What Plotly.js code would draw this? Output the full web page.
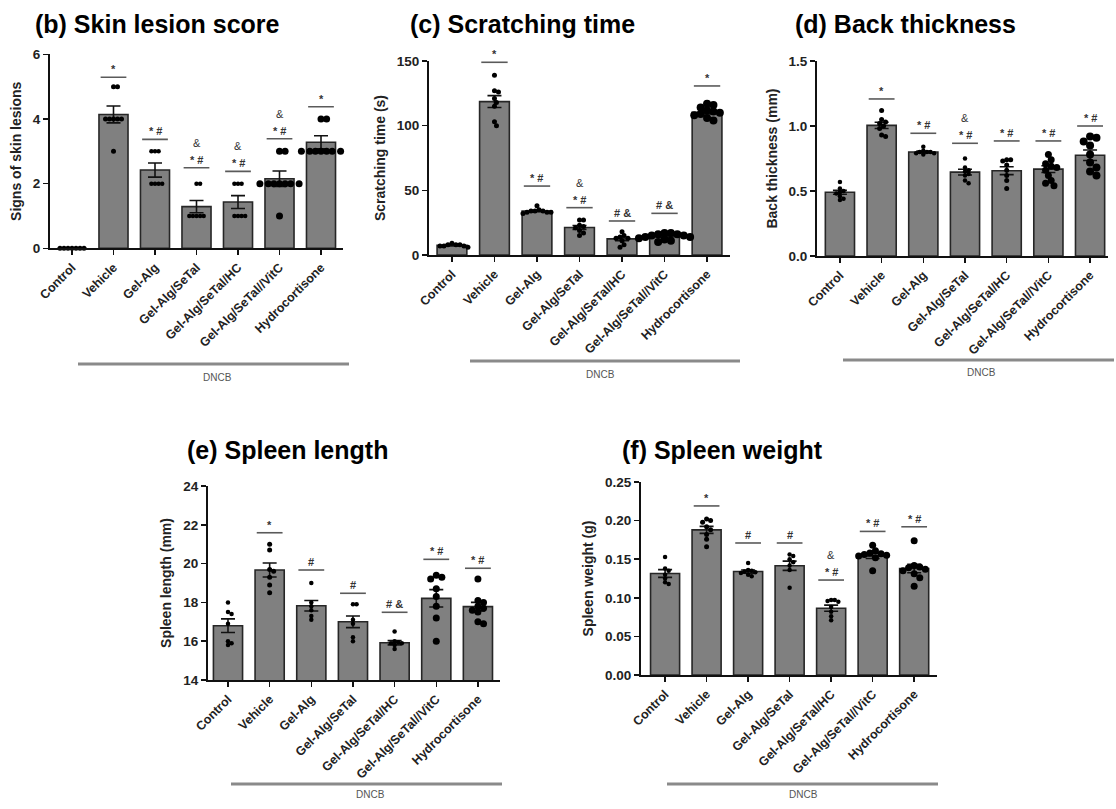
<!DOCTYPE html>
<html>
<head>
<meta charset="utf-8">
<script src="https://cdn.plot.ly/plotly-3.0.1.min.js"></script>
<style>html,body{margin:0;padding:0;background:#fff;}#chart{width:1116px;height:809px;}</style>
</head>
<body>
<div id="chart"></div>
<script>
// ---------------- DATA ----------------
const groups = ["Control", "Vehicle", "Gel-Alg", "Gel-Alg/SeTal", "Gel-Alg/SeTal/HC", "Gel-Alg/SeTal//VitC", "Hydrocortisone"];

// (b) Skin lesion score
const lesionMean = [0, 4.14, 2.42, 1.29, 1.43, 2.15, 3.28];
const lesionSem  = [0, 0.26, 0.22, 0.19, 0.20, 0.24, 0.20];
const lesionPts  = [
  [0, 0, 0, 0, 0, 0, 0],
  [5, 5, 4, 4, 4, 4, 4, 3],
  [3, 3, 3, 2, 2, 2, 2],
  [2, 2, 1, 1, 1, 1, 1],
  [2, 2, 2, 1, 1, 1, 1],
  [3, 3, 2, 2, 2, 2, 2, 2, 2, 1],
  [4, 4, 3, 3, 3, 3, 3, 3, 3]
];
const lesionSigY   = [null, 5.29, 3.37, 2.49, 2.38, 3.39, 4.38];
const lesionSig    = ["", "*", "*#", "*#", "*#", "*#", "*"];
const lesionSigTop = ["", "", "", "&", "&", "&", ""];

// (c) Scratching time
const scratchMean = [7.5, 118.6, 34, 21.3, 12.5, 14.2, 110.3];
const scratchSem  = [0.5, 4.6, 0.6, 1.5, 1.4, 0.6, 1.2];
const scratchPts  = [
  [9, 8, 8, 8, 7, 7, 7, 6],
  [139, 127, 126, 121, 118, 115, 103, 100],
  [38, 35, 34, 34, 33, 33, 33, 32, 34],
  [27, 27, 23, 22, 21, 19, 17, 15],
  [18, 15, 14, 13, 13, 11, 8, 6],
  [17, 17, 16, 16, 15, 15, 14, 14, 13, 12, 11, 10],
  [117, 116, 114, 112, 111, 110, 109, 108, 106, 104]
];
const scratchSigY   = [null, 149, 53.3, 36.6, 26.3, 32.2, 130.7];
const scratchSig    = ["", "*", "*#", "*#", "#&", "#&", "*"];
const scratchSigTop = ["", "", "", "&", "", "", ""];

// (d) Back thickness
const thickMean = [0.49, 1.005, 0.80, 0.645, 0.656, 0.668, 0.775];
const thickSem  = [0.015, 0.024, 0.007, 0.022, 0.030, 0.026, 0.040];
const thickPts  = [
  [0.57, 0.52, 0.50, 0.49, 0.48, 0.46, 0.44, 0.43],
  [1.12, 1.05, 1.03, 1.02, 1.00, 0.98, 0.93, 0.92],
  [0.84, 0.81, 0.80, 0.80, 0.80, 0.79, 0.79, 0.78],
  [0.75, 0.68, 0.66, 0.65, 0.63, 0.62, 0.58, 0.56],
  [0.74, 0.74, 0.73, 0.70, 0.66, 0.62, 0.58, 0.52],
  [0.78, 0.74, 0.71, 0.69, 0.68, 0.66, 0.62, 0.58, 0.56, 0.54],
  [0.92, 0.91, 0.88, 0.85, 0.78, 0.72, 0.68, 0.65, 0.62]
];
const thickSigY   = [null, 1.208, 0.944, 0.867, 0.885, 0.885, 1.0];
const thickSig    = ["", "*", "*#", "*#", "*#", "*#", "*#"];
const thickSigTop = ["", "", "", "&", "", "", ""];

// (e) Spleen length
const lengthMean = [16.8, 19.67, 17.83, 17.0, 15.92, 18.21, 17.78];
const lengthSem  = [0.35, 0.36, 0.27, 0.30, 0.11, 0.45, 0.22];
const lengthPts  = [
  [18.0, 17.5, 17.4, 16.9, 16.0, 15.9, 15.8],
  [21.0, 20.7, 19.7, 19.6, 19.3, 18.9, 18.5],
  [19.0, 18.0, 17.8, 17.6, 17.3, 17.1],
  [17.9, 17.9, 17.1, 16.9, 16.2, 16.0],
  [16.5, 16.0, 15.95, 15.9, 15.9, 15.8, 15.6],
  [19.4, 19.3, 19.2, 18.7, 18.3, 17.8, 17.2, 16.0],
  [19.2, 18.1, 18.0, 17.8, 17.7, 17.6, 17.5, 17.0, 16.9]
];
const lengthSigY   = [null, 21.59, 19.67, 18.47, 17.49, 20.22, 19.76];
const lengthSig    = ["", "*", "#", "#", "#&", "*#", "*#"];
const lengthSigTop = ["", "", "", "", "", "", ""];

// (f) Spleen weight
const weightMean = [0.1315, 0.188, 0.134, 0.1415, 0.0865, 0.154, 0.138];
const weightSem  = [0.005, 0.0045, 0.002, 0.006, 0.004, 0.003, 0.0055];
const weightPts  = [
  [0.153, 0.138, 0.135, 0.130, 0.125, 0.120, 0.118],
  [0.202, 0.200, 0.198, 0.192, 0.188, 0.182, 0.176, 0.166],
  [0.145, 0.136, 0.135, 0.134, 0.133, 0.132, 0.130, 0.128],
  [0.156, 0.154, 0.150, 0.146, 0.142, 0.136, 0.113],
  [0.097, 0.097, 0.096, 0.095, 0.088, 0.082, 0.076, 0.071],
  [0.168, 0.161, 0.158, 0.157, 0.156, 0.155, 0.154, 0.152, 0.135],
  [0.174, 0.142, 0.140, 0.139, 0.137, 0.135, 0.131, 0.126, 0.115]
];
const weightSigY   = [null, 0.219, 0.171, 0.171, 0.123, 0.186, 0.192];
const weightSig    = ["", "*", "#", "#", "*#", "*#", "*#"];
const weightSigTop = ["", "", "", "", "&", "", ""];

// ---------------- STYLE / LAYOUT ----------------
const W = 1116, H = 809;
const FONT = 'Arial, "Liberation Sans", Helvetica, sans-serif';

const panels = [
  {title: "(b) Skin lesion score", tx: 33, ty: 24, ytitle: "Signs of skin lesions",
   box: {l: 50, r: 343, t: 54.3, b: 248.3}, xr: [-0.53, 6.53], yr: [0, 6], tickvals: [0, 2, 4, 6], fmt: "",
   mean: lesionMean, sem: lesionSem, pts: lesionPts, sigY: lesionSigY, sig: lesionSig, sigTop: lesionSigTop,
   msize: [5, 5, 4.5, 4.5, 4.5, 7, 7],
   dncb: {x0: 78, x1: 349, y: 364, tx: 217, ty: 378}},
  {title: "(c) Scratching time", tx: 408, ty: 24, ytitle: "Scratching time (s)",
   box: {l: 429, r: 730, t: 61, b: 255}, xr: [-0.54, 6.54], yr: [0, 150], tickvals: [0, 50, 100, 150], fmt: "",
   mean: scratchMean, sem: scratchSem, pts: scratchPts, sigY: scratchSigY, sig: scratchSig, sigTop: scratchSigTop,
   msize: [5, 5, 5, 5, 5, 8, 8],
   dncb: {x0: 470, x1: 740, y: 361, tx: 600, ty: 374}},
  {title: "(d) Back thickness", tx: 793, ty: 24, ytitle: "Back thickness (mm)",
   box: {l: 817, r: 1108, t: 61, b: 256}, xr: [-0.55, 6.43], yr: [0, 1.5], tickvals: [0, 0.5, 1.0, 1.5], fmt: ".1f",
   mean: thickMean, sem: thickSem, pts: thickPts, sigY: thickSigY, sig: thickSig, sigTop: thickSigTop,
   msize: [4.5, 5, 4.5, 4.5, 5, 7, 8],
   dncb: {x0: 843, x1: 1114, y: 360, tx: 981, ty: 373}},
  {title: "(e) Spleen length", tx: 185, ty: 450, ytitle: "Spleen length (mm)",
   box: {l: 208, r: 500, t: 486, b: 680}, xr: [-0.48, 6.53], yr: [14, 24], tickvals: [14, 16, 18, 20, 22, 24], fmt: "",
   mean: lengthMean, sem: lengthSem, pts: lengthPts, sigY: lengthSigY, sig: lengthSig, sigTop: lengthSigTop,
   msize: [4.5, 5, 4.5, 4.5, 4.5, 7, 7],
   dncb: {x0: 231, x1: 502, y: 784, tx: 370, ty: 794}},
  {title: "(f) Spleen weight", tx: 620, ty: 450, ytitle: "Spleen weight (g)",
   box: {l: 641, r: 937, t: 482, b: 675}, xr: [-0.58, 6.55], yr: [0, 0.25], tickvals: [0, 0.05, 0.10, 0.15, 0.20, 0.25], fmt: ".2f",
   mean: weightMean, sem: weightSem, pts: weightPts, sigY: weightSigY, sig: weightSig, sigTop: weightSigTop,
   msize: [4.5, 5, 4.5, 4.5, 4.5, 7, 7],
   dncb: {x0: 667, x1: 938, y: 784, tx: 803, ty: 794}}
];

// simple deterministic beeswarm: horizontal offsets (in x units); dots may overlap a little
function swarm(vals, sizePx, pxX, pxY) {
  const off = new Array(vals.length).fill(0);
  const order = vals.map((v, i) => i).sort((a, b) => vals[b] - vals[a]);
  const placed = [];
  const d = sizePx * 0.8;
  for (const i of order) {
    const y = vals[i] * pxY;
    for (let k = 0; k < 60; k++) {
      const m = Math.ceil(k / 2) * (k % 2 ? 1 : -1);
      const x = m * d * 0.5;
      if (placed.every(p => Math.hypot(p.x - x, p.y - y) >= d)) {
        placed.push({x, y}); off[i] = x / pxX; break;
      }
    }
  }
  return off;
}

const data = [];
const layout = {
  width: W, height: H, margin: {l: 0, r: 0, t: 0, b: 0},
  paper_bgcolor: "#fff", plot_bgcolor: "rgba(0,0,0,0)",
  showlegend: false, font: {family: FONT, color: "#111"},
  shapes: [], annotations: []
};

const idx = groups.map((g, i) => i);

panels.forEach((p, n) => {
  const suf = n === 0 ? "" : String(n + 1);
  const xa = "x" + suf, ya = "y" + suf;
  const pxX = (p.box.r - p.box.l) / (p.xr[1] - p.xr[0]);
  const pxY = (p.box.b - p.box.t) / (p.yr[1] - p.yr[0]);

  data.push({
    type: "bar", x: idx, y: p.mean, width: 0.7, xaxis: xa, yaxis: ya,
    marker: {color: "#808080", line: {color: "#262626", width: 1.6}},
    error_y: {type: "data", array: p.sem, visible: true, color: "#111", thickness: 1.6, width: 7},
    hoverinfo: "skip"
  });

  const sx = [], sy = [], ss = [];
  p.pts.forEach((vals, g) => {
    const off = swarm(vals, p.msize[g], pxX, pxY);
    vals.forEach((v, k) => { sx.push(g + off[k]); sy.push(v); ss.push(p.msize[g]); });
  });
  data.push({
    type: "scatter", mode: "markers", x: sx, y: sy, xaxis: xa, yaxis: ya, opacity: 1,
    marker: {color: "#000000", opacity: 1, size: ss, line: {width: 0}}, cliponaxis: false, hoverinfo: "skip"
  });

  layout["xaxis" + suf] = {
    domain: [p.box.l / W, p.box.r / W], anchor: ya, range: p.xr, fixedrange: true,
    tickmode: "array", tickvals: idx, ticktext: groups, tickangle: -45,
    tickfont: {family: FONT, size: 12.5, color: "#222", weight: "bold"},
    ticks: "outside", ticklen: 5, tickwidth: 1.5, tickcolor: "#111",
    showline: true, linecolor: "#111", linewidth: 2, showgrid: false, zeroline: false
  };
  layout["yaxis" + suf] = {
    domain: [1 - p.box.b / H, 1 - p.box.t / H], anchor: xa, range: p.yr, fixedrange: true,
    tickmode: "array", tickvals: p.tickvals, tickformat: p.fmt,
    tickfont: {family: FONT, size: 13.5, color: "#222", weight: "bold"},
    ticks: "outside", ticklen: 5, tickwidth: 1.5, tickcolor: "#111",
    showline: true, linecolor: "#111", linewidth: 2, showgrid: false, zeroline: false,
    title: {text: p.ytitle, font: {family: FONT, size: 14, color: "#222", weight: "bold"}, standoff: 8}
  };

  // significance bars and labels
  p.sigY.forEach((y, g) => {
    if (y === null) return;
    layout.shapes.push({type: "line", xref: xa, yref: ya, x0: g - 0.31, x1: g + 0.31, y0: y, y1: y,
      line: {color: "#5a5a5a", width: 1.6}});
    layout.annotations.push({xref: xa, yref: ya, x: g, y: y, text: p.sig[g].split("").join(" "), showarrow: false,
      yanchor: "bottom", yshift: 0, font: {family: FONT, size: 11, color: "#333", weight: "bold"}});
    if (p.sigTop[g]) {
      layout.annotations.push({xref: xa, yref: ya, x: g, y: y, text: p.sigTop[g], showarrow: false,
        yanchor: "bottom", yshift: 17, font: {family: FONT, size: 11, color: "#333"}});
    }
  });

  // panel title
  layout.annotations.push({xref: "paper", yref: "paper", x: p.tx / W, y: 1 - p.ty / H, text: p.title,
    showarrow: false, xanchor: "left", yanchor: "middle",
    font: {family: FONT, size: 25, color: "#000", weight: "bold"}});

  // DNCB bracket
  layout.shapes.push({type: "line", xref: "paper", yref: "paper",
    x0: p.dncb.x0 / W, x1: p.dncb.x1 / W, y0: 1 - p.dncb.y / H, y1: 1 - p.dncb.y / H,
    line: {color: "#8a8a8a", width: 3}});
  layout.annotations.push({xref: "paper", yref: "paper", x: p.dncb.tx / W, y: 1 - p.dncb.ty / H, text: "DNCB",
    showarrow: false, xanchor: "center", yanchor: "middle",
    font: {family: FONT, size: 10, color: "#555"}});
});

Plotly.newPlot("chart", data, layout, {staticPlot: true, displayModeBar: false});
</script>
</body>
</html>
